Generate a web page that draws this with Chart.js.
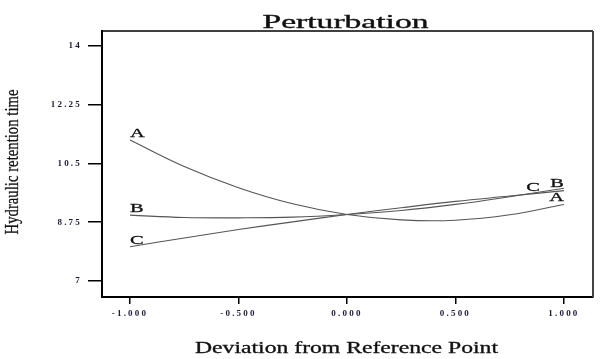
<!DOCTYPE html>
<html><head><meta charset="utf-8">
<script src="https://cdn.jsdelivr.net/npm/chart.js@4"></script>
<style>html,body{margin:0;padding:0;background:#fff}#wrap{width:600px;height:359px}</style>
</head><body><div id="wrap"><canvas id="c" width="600" height="359"></canvas></div>
<script>
// ---- data ----
const xValues = [-1, -0.75, -0.5, -0.25, 0, 0.25, 0.5, 0.75, 1];
const seriesA = [11.20, 10.41, 9.78, 9.30, 8.98, 8.82, 8.81, 8.97, 9.28];
const seriesB = [8.96, 8.89, 8.88, 8.90, 8.98, 9.10, 9.28, 9.51, 9.76];
const seriesC = [8.02, 8.28, 8.53, 8.76, 8.98, 9.18, 9.37, 9.53, 9.69];
const seriesNames = ['A', 'B', 'C'];
const yTicks = [7, 8.75, 10.5, 12.25, 14];
const xTicks = [-1, -0.5, 0, 0.5, 1];
const chartTitle = 'Perturbation';
const xTitle = 'Deviation from Reference Point';
const yTitle = 'Hydraulic retention time';

const serif = '"Liberation Serif", "Times New Roman", serif';
const allSeries = [seriesA, seriesB, seriesC];

// label placement style (offsets in px) for start / end labels
const labelStyle = {
  A: { start: [0, -3, 'left'], end: [0, -3, 'right'] },
  B: { start: [0, -3, 'left'], end: [0, -1, 'right'] },
  C: { start: [0, -3, 'left'], end: [-24, 0, 'right'] }
};

function stretchText(ctx, text, x, y, font, width, rotate, align, thick) {
  ctx.save();
  ctx.font = font;
  ctx.letterSpacing = '0px';
  const w = ctx.measureText(text).width;
  ctx.translate(x, y);
  if (rotate) ctx.rotate(-Math.PI / 2);
  ctx.scale(width / w, 1);
  ctx.textAlign = align || 'center';
  ctx.textBaseline = 'alphabetic';
  ctx.fillStyle = '#111';
  ctx.fillText(text, 0, 0);
  if (thick) {
    ctx.strokeStyle = '#111';
    ctx.lineWidth = thick;
    ctx.strokeText(text, 0, 0);
  }
  ctx.restore();
}

const decorPlugin = {
  id: 'decor',
  beforeDraw(chart) { chart.ctx.letterSpacing = '2.2px'; },
  afterDraw(chart) {
    const ctx = chart.ctx;
    ctx.letterSpacing = '0px';
    const a = chart.chartArea;
    // top and right frame
    ctx.save();
    ctx.strokeStyle = '#000';
    ctx.lineWidth = 1.5;
    ctx.beginPath(); ctx.moveTo(a.left, a.top); ctx.lineTo(a.right, a.top); ctx.stroke();
    ctx.strokeStyle = '#444';
    ctx.lineWidth = 2;
    ctx.beginPath(); ctx.moveTo(a.right, a.top); ctx.lineTo(a.right, a.bottom); ctx.stroke();
    ctx.restore();
    const cx = (a.left + a.right) / 2;
    stretchText(ctx, chartTitle, cx - 2, 27.5, '19px ' + serif, 166, false, 'center', 0.35);
    stretchText(ctx, xTitle, cx - 1, 353, '16px ' + serif, 303, false, 'center', 0.3);
    stretchText(ctx, yTitle, 18, 162, '19px ' + serif, 145, true, 'center', 0.3);
    // series labels
    chart.data.datasets.forEach((ds, i) => {
      const meta = chart.getDatasetMeta(i);
      const name = seriesNames[i];
      const st = labelStyle[name];
      const p0 = meta.data[0], p1 = meta.data[meta.data.length - 1];
      const lab = (p, s) => {
        ctx.save();
        ctx.font = '12px ' + serif;
        const w = ctx.measureText(name).width;
        ctx.restore();
        stretchText(ctx, name, p.x + s[0], p.y + s[1], '12px ' + serif, w * 1.7, false, s[2], 0.3);
      };
      lab(p0, st.start);
      lab(p1, st.end);
    });
  }
};

const mk = (arr) => xValues.map((x, i) => ({ x, y: arr[i] }));

new Chart(document.getElementById('c'), {
  type: 'line',
  data: {
    datasets: allSeries.map((s, i) => ({
      label: seriesNames[i],
      data: mk(s),
      borderColor: '#555',
      borderWidth: 1.1,
      pointRadius: 0,
      tension: 0.4,
      fill: false
    }))
  },
  options: {
    responsive: false,
    devicePixelRatio: 1,
    animation: false,
    layout: { padding: { top: 31, right: 7, left: 0, bottom: 0 } },
    plugins: { legend: { display: false }, title: { display: false }, tooltip: { enabled: false } },
    scales: {
      x: {
        type: 'linear', min: -1.129, max: 1.134,
        afterBuildTicks: (sc) => { sc.ticks = xTicks.map(v => ({ value: v })); },
        afterFit: (sc) => { sc.height = 62; },
        ticks: {
          callback: (v) => Number(v).toFixed(3),
          font: { family: serif, size: 9, weight: 'bold' },
          color: '#1c1c3a', padding: 4, maxRotation: 0, autoSkip: false
        },
        grid: { display: true, drawOnChartArea: false, drawTicks: true, tickLength: 7, color: '#000', lineWidth: 1.5 },
        border: { display: true, color: '#000', width: 2 }
      },
      y: {
        type: 'linear', min: 6.52, max: 14.45,
        afterBuildTicks: (sc) => { sc.ticks = yTicks.map(v => ({ value: v })); },
        afterFit: (sc) => { sc.width = 102; },
        ticks: {
          callback: (v) => String(v),
          font: { family: serif, size: 9, weight: 'bold' },
          color: '#1c1c3a', padding: 6, autoSkip: false
        },
        grid: { display: true, drawOnChartArea: false, drawTicks: true, tickLength: 14, color: '#000', lineWidth: 1.5 },
        border: { display: true, color: '#000', width: 2 }
      }
    }
  },
  plugins: [decorPlugin]
});
</script>
</body></html>
